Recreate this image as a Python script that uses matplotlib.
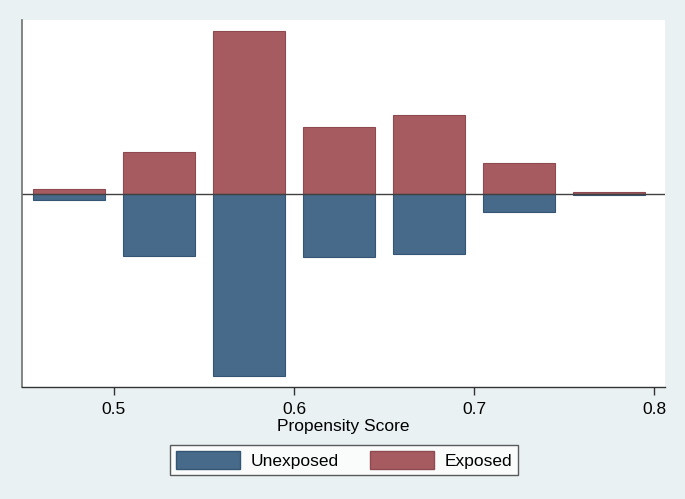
import numpy as np
import matplotlib.pyplot as plt
from matplotlib.patches import Patch

# bin centres (propensity score) and bar heights (arbitrary frequency units)
bin_centres = [0.475, 0.525, 0.575, 0.625, 0.675, 0.725, 0.775]
exposed = [5, 42, 163, 67, 79, 31, 2]
unexposed = [6, 62, 182, 63, 60, 18, 1]
xticks = [0.5, 0.6, 0.7, 0.8]

bg = '#EAF1F3'
c_exp = '#A65B60'
c_unexp = '#486A8A'

plt.rcParams['font.family'] = ['Liberation Sans', 'DejaVu Sans']

fig = plt.figure(figsize=(6.85, 4.99), dpi=100, facecolor=bg)
ax = fig.add_axes([0.0321, 0.2244, 0.9387, 0.7355])

ax.bar(bin_centres, exposed, width=0.04, color=c_exp, edgecolor='#8E4A50', linewidth=0.8)
ax.bar(bin_centres, [-v for v in unexposed], width=0.04, color=c_unexp, edgecolor='#345674', linewidth=0.8)
ax.axhline(0, color='#404040', linewidth=1.0)

ax.set_xlim(0.4489, 0.8061)
ax.set_ylim(-193, 174)
ax.set_xticks(xticks)
ax.set_xticklabels([str(t) for t in xticks], fontsize=12.5)
ax.set_yticks([])
ax.tick_params(axis='x', length=6, width=1, color='#333333', pad=5)
ax.set_xlabel('Propensity Score', fontsize=12.5, labelpad=1)

for s in ['top', 'right']:
    ax.spines[s].set_visible(False)
ax.spines['left'].set_color('#707070')
ax.spines['left'].set_linewidth(1.2)
ax.spines['bottom'].set_color('#333333')
ax.spines['bottom'].set_linewidth(1.0)

handles = [Patch(facecolor=c_unexp, edgecolor='#345674'),
           Patch(facecolor=c_exp, edgecolor='#8E4A50')]
leg = fig.legend(handles, ['Unexposed', 'Exposed'], loc='center',
                 bbox_to_anchor=(0.502, 0.078), ncol=2, fontsize=12.5,
                 frameon=True, fancybox=False, edgecolor='#333333',
                 handlelength=3.7, handleheight=1.2, columnspacing=1.8,
                 handletextpad=0.6, borderpad=0.35)
leg.get_frame().set_linewidth(1.0)

fig.savefig('out.png', dpi=100, facecolor=bg)
